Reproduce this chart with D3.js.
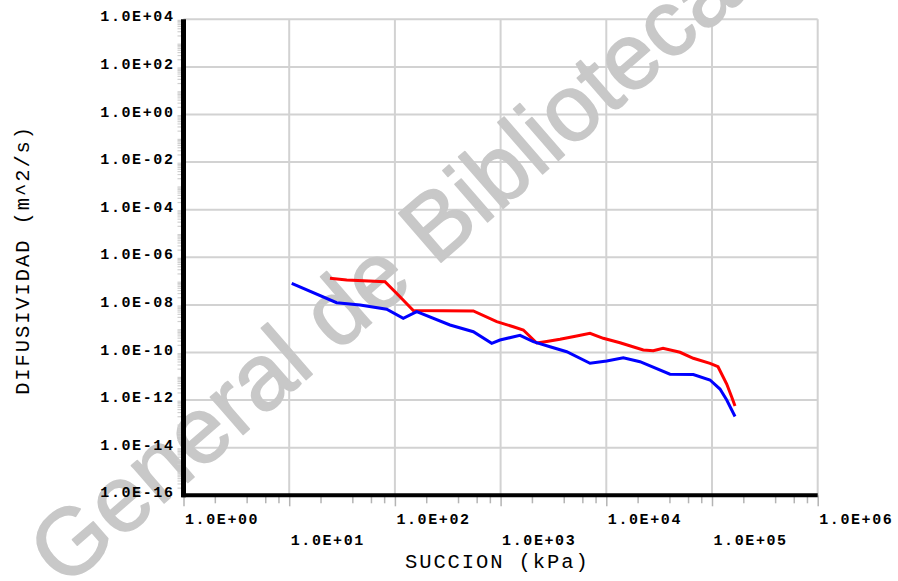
<!DOCTYPE html>
<html>
<head>
<meta charset="utf-8">
<script src="https://cdn.jsdelivr.net/npm/d3@7"></script>
<style>
  html, body { margin: 0; padding: 0; background: #fff; overflow: hidden; }
  svg { display: block; }
</style>
</head>
<body>
<svg id="chart" width="898" height="581"></svg>
<script>
// Curva roja: succión (kPa) y difusividad (m^2/s)
const succionRoja = [24.3, 35.0, 80.6, 111.7, 149.3, 552, 919, 1319, 1640, 2196, 2730, 3648, 5248, 7013, 9367, 13480, 22390, 27840, 34400, 49810, 66560, 95750, 114000, 137800, 153600, 165100];
const difusividadRoja = [1.31e-7, 1.11e-7, 9.44e-8, 2.21e-8, 5.82e-9, 5.55e-9, 1.97e-9, 1.21e-9, 8.81e-10, 2.51e-10, 2.90e-10, 3.59e-10, 4.93e-10, 6.41e-10, 3.95e-10, 2.58e-10, 1.27e-10, 1.19e-10, 1.50e-10, 1.02e-10, 5.70e-11, 3.52e-11, 2.53e-11, 4.74e-12, 1.35e-12, 5.65e-13];

// Curva azul
const succionAzul = [10.56, 28.1, 46.8, 83.6, 120, 160.8, 332, 552, 824, 987, 1526, 2039, 2934, 4222, 7013, 10088, 14480, 20840, 40050, 66560, 95750, 119000, 137800, 165100];
const difusividadAzul = [8.09e-8, 1.24e-8, 9.9e-9, 6.53e-9, 2.73e-9, 5.18e-9, 1.43e-9, 7.48e-10, 2.44e-10, 3.35e-10, 5.28e-10, 2.84e-10, 1.75e-10, 1.08e-10, 3.52e-11, 4.40e-11, 6.05e-11, 4.10e-11, 1.22e-11, 1.19e-11, 7.0e-12, 2.92e-12, 1.01e-12, 2.05e-13];

// Ticks
const xTickValues = [1, 1e1, 1e2, 1e3, 1e4, 1e5, 1e6];
const xTickLabels = ["1.0E+00", "1.0E+01", "1.0E+02", "1.0E+03", "1.0E+04", "1.0E+05", "1.0E+06"];
const yTickValues = [1e4, 1e2, 1e0, 1e-2, 1e-4, 1e-6, 1e-8, 1e-10, 1e-12, 1e-14, 1e-16];
const yTickLabels = ["1.0E+04", "1.0E+02", "1.0E+00", "1.0E-02", "1.0E-04", "1.0E-06", "1.0E-08", "1.0E-10", "1.0E-12", "1.0E-14", "1.0E-16"];

const xTitle = "SUCCION (kPa)";
const yTitle = "DIFUSIVIDAD (m^2/s)";
const watermark = "General de Biblioteca";

const svg = d3.select("#chart");
const plotLeft = 183.5, plotRight = 817.7, plotTop = 19.3, plotBottom = 495.3;

const x = d3.scaleLog().domain([1, 1e6]).range([plotLeft, plotRight]);
const y = d3.scaleLog().domain([1e-16, 1e4]).range([plotBottom, plotTop]);

const mono = "'Courier New', 'Liberation Mono', monospace";

// Grid
const grid = svg.append("g").attr("stroke", "#d2d2d2").attr("stroke-width", 2);
grid.selectAll("line.v").data(xTickValues.slice(1)).join("line")
  .attr("class", "v")
  .attr("x1", d => x(d)).attr("x2", d => x(d))
  .attr("y1", plotTop).attr("y2", plotBottom);
grid.selectAll("line.h").data(yTickValues.slice(0, -1)).join("line")
  .attr("class", "h")
  .attr("x1", plotLeft).attr("x2", plotRight)
  .attr("y1", d => y(d)).attr("y2", d => y(d));

// Watermark
svg.append("text")
  .attr("transform", "translate(64.6,589.5) rotate(-41)")
  .attr("font-family", "'Liberation Sans', Arial, sans-serif")
  .attr("font-size", 94)
  .attr("fill", "#c8c8c8")
  .attr("stroke", "#c8c8c8").attr("stroke-width", 1.5).attr("stroke-linejoin", "round")
  .text(watermark);

// Minor ticks, x axis (2, 4, 6, 8 within each decade)
const xMinor = [];
for (let e = 0; e < 6; e++) for (const k of [2, 4, 6, 8]) xMinor.push(k * Math.pow(10, e));
svg.append("g").attr("stroke", "#b4b4b4").attr("stroke-width", 1.5)
  .selectAll("line").data(xMinor).join("line")
  .attr("x1", d => x(d)).attr("x2", d => x(d))
  .attr("y1", plotBottom).attr("y2", plotBottom + 8);

// Minor ticks, y axis
const yMinor = [];
for (let e = -16; e < 4; e++) for (let k = 2; k <= 9; k += 1) yMinor.push(k * Math.pow(10, e));
svg.append("g").attr("stroke", "#cfcfcf").attr("stroke-width", 1.2)
  .selectAll("line").data(yMinor).join("line")
  .attr("x1", plotLeft - 6).attr("x2", plotLeft - 2)
  .attr("y1", d => y(d)).attr("y2", d => y(d));

// X axis
const xAxis = svg.append("g")
  .attr("transform", `translate(0,${plotBottom})`)
  .call(d3.axisBottom(x).tickValues(xTickValues).tickFormat((d, i) => xTickLabels[i]).tickSize(11).tickSizeOuter(0));
xAxis.select(".domain").remove();
xAxis.selectAll(".tick line").attr("stroke", "#b4b4b4").attr("stroke-width", 1.5);
xAxis.selectAll(".tick text")
  .attr("font-family", mono).attr("font-weight", "bold").attr("font-size", 15)
  .attr("letter-spacing", 1.6)
  .attr("fill", "#000").attr("text-anchor", "start")
  .attr("x", 1).attr("dy", 0)
  .attr("y", (d, i) => i % 2 === 0 ? 28.7 : 50);

// Y axis
const yAxis = svg.append("g")
  .attr("transform", `translate(${plotLeft},0)`)
  .call(d3.axisLeft(y).tickValues(yTickValues).tickFormat((d, i) => yTickLabels[i]).tickSize(0).tickSizeOuter(0));
yAxis.select(".domain").remove();
yAxis.selectAll(".tick text")
  .attr("font-family", mono).attr("font-weight", "bold").attr("font-size", 15)
  .attr("letter-spacing", 1.6)
  .attr("fill", "#000").attr("text-anchor", "end")
  .attr("x", -9).attr("dy", 1.5);

// Heavy axis lines
svg.append("line").attr("x1", plotLeft).attr("x2", plotLeft).attr("y1", plotTop).attr("y2", plotBottom + 2)
  .attr("stroke", "#000").attr("stroke-width", 5);
svg.append("line").attr("x1", plotLeft - 2).attr("x2", plotRight).attr("y1", plotBottom).attr("y2", plotBottom)
  .attr("stroke", "#000").attr("stroke-width", 4);

// Series
const line = d3.line().x(d => x(d[0])).y(d => y(d[1]));
svg.append("path")
  .datum(succionRoja.map((s, i) => [s, difusividadRoja[i]]))
  .attr("d", line).attr("fill", "none").attr("stroke", "#ff0000").attr("stroke-width", 3);
svg.append("path")
  .datum(succionAzul.map((s, i) => [s, difusividadAzul[i]]))
  .attr("d", line).attr("fill", "none").attr("stroke", "#0000ff").attr("stroke-width", 3);

// Titles
svg.append("text")
  .attr("x", 405).attr("y", 568)
  .attr("text-anchor", "start")
  .attr("font-family", mono).attr("font-size", 20.5).attr("letter-spacing", 1.9)
  .attr("fill", "#000")
  .text(xTitle);
svg.append("text")
  .attr("transform", "translate(28.5,125) rotate(-90)")
  .attr("text-anchor", "end")
  .attr("font-family", mono).attr("font-size", 20.5).attr("letter-spacing", 1.9)
  .attr("fill", "#000")
  .text(yTitle);
</script>
</body>
</html>
